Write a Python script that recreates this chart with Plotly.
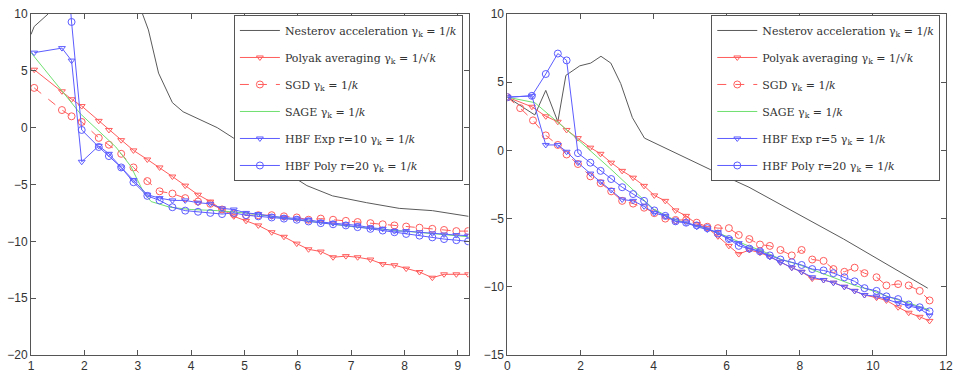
import plotly.graph_objects as go

# ---------------- Left panel data ----------------
left_x = [1.06, 1.58, 1.76, 1.95, 2.27, 2.46, 2.69, 2.92, 3.18, 3.41, 3.65, 3.89, 4.13, 4.36, 4.58,
          4.8, 5.03, 5.26, 5.51, 5.74, 5.98, 6.2, 6.43, 6.66, 6.9, 7.12, 7.36, 7.59, 7.81, 8.03,
          8.28, 8.52, 8.74, 8.97, 9.19]
left_polyak = [5.1, 3.2, 2.5, 1.9, 0.6, -0.2, -1.1, -2.0, -2.8, -3.5, -4.3, -5.1, -5.9, -6.5, -7.2,
               -7.8, -8.2, -8.6, -9.2, -9.6, -10.2, -10.7, -10.9, -11.4, -11.3, -11.4, -11.6, -12.0, -12.1, -12.4,
               -12.7, -13.2, -12.9, -12.9, -12.9]
left_sgd = [3.5, 1.55, 1.0, 0.5, -0.9, -1.5, -2.3, -3.5, -4.7, -5.6, -5.8, -6.2, -6.5, -6.7, -7.2,
            -7.6, -7.7, -7.7, -7.7, -7.8, -7.9, -8.1, -8.0, -8.1, -8.2, -8.3, -8.4, -8.5, -8.6, -8.7,
            -8.8, -8.9, -9.0, -9.1, -9.1]
left_hbf_exp = [6.6, 7.0, 5.9, -3.0, -1.6, -2.3, -3.5, -4.6, -5.9, -6.2, -6.4, -6.4, -6.6, -6.7, -7.1,
                -7.2, -7.5, -7.6, -7.8, -7.9, -8.0, -8.1, -8.3, -8.4, -8.5, -8.6, -8.8, -8.9, -9.1, -9.1,
                -9.2, -9.3, -9.4, -9.45, -9.5]
left_hbf_poly = [30.0, 20.0, 9.3, -0.2, -1.7, -2.5, -3.5, -4.8, -6.0, -6.4, -7.0, -7.3, -7.4, -7.5, -7.6,
                 -7.5, -7.7, -7.8, -7.9, -8.0, -8.1, -8.25, -8.4, -8.5, -8.6, -8.75, -8.9, -9.05, -9.2, -9.35,
                 -9.5, -9.65, -9.8, -9.9, -10.0]
left_sage_x = [1.0, 1.93, 2.59, 2.87, 3.1, 3.25, 3.6, 4.0, 4.5, 5.0, 5.5, 6.0, 6.5, 7.0, 7.5, 8.0, 8.5, 9.2]
left_sage = [6.6, 1.2, -1.7, -3.4, -5.6, -6.5, -7.0, -7.2, -7.3, -7.5, -7.8, -8.1, -8.4, -8.7, -8.9, -9.1, -9.3, -9.6]
left_nest_x = [1.0, 1.06, 1.32, 2.2, 3.09, 3.2, 3.39, 3.65, 3.85, 4.17, 4.49, 4.79, 5.3, 6.17, 6.65, 7.29, 7.9, 8.52, 9.2]
left_nest = [8.2, 8.9, 10.0, 16.0, 10.0, 8.6, 4.8, 2.2, 1.4, 0.7, 0.0, -0.9, -2.5, -5.1, -6.0, -6.6, -7.1, -7.3, -7.8]

# ---------------- Right panel data ----------------
right_x = [0, 0.67, 1.05, 1.38, 1.62, 1.93, 2.27, 2.55, 2.84, 3.14, 3.44, 3.74, 4.02, 4.32, 4.6, 4.89,
           5.18, 5.47, 5.76, 6.06, 6.33, 6.62, 6.91, 7.18, 7.47, 7.78, 8.05, 8.34, 8.65, 8.92, 9.22,
           9.5, 9.77, 10.1, 10.37, 10.69, 10.98, 11.28, 11.55]
right_polyak = [3.9, 3.2, 2.5, 2.1, 1.5, 0.9, 0.2, -0.25, -0.9, -1.5, -2.0, -2.6, -3.3, -3.7, -4.4, -4.8,
                -5.4, -5.7, -6.3, -7.0, -7.6, -7.3, -7.5, -7.8, -8.2, -8.6, -8.9, -9.4, -9.5, -9.7, -10.0,
                -10.3, -10.6, -10.8, -11.0, -11.5, -11.9, -12.2, -12.5]
right_sgd_x = [0, 0.35, 0.7, 1.05, 1.38, 1.62, 1.93, 2.27, 2.55, 2.84, 3.14, 3.44, 3.74, 4.02, 4.32, 4.6,
               4.89, 5.18, 5.47, 5.76, 6.06, 6.33, 6.62, 6.91, 7.18, 7.47, 7.78, 8.05, 8.34, 8.65, 8.92,
               9.22, 9.5, 9.77, 10.1, 10.37, 10.69, 10.98, 11.28, 11.55]
right_sgd = [3.9, 3.1, 2.2, 1.1, 0.4, -0.3, -1.0, -1.9, -2.4, -3.0, -3.7, -3.9, -4.2, -4.6, -5.0, -5.1,
             -5.1, -5.3, -5.6, -5.7, -5.7, -6.2, -6.5, -6.9, -7.0, -7.3, -7.7, -7.3, -8.0, -8.1, -8.7,
             -8.9, -8.6, -9.0, -9.3, -9.9, -9.8, -9.9, -10.3, -11.0]
right_hbf_exp = [3.9, 4.0, 0.4, 0.4, -0.1, -0.9, -1.7, -2.3, -2.9, -3.6, -3.7, -4.1, -4.6, -4.8, -5.2, -5.3,
                 -5.6, -5.8, -6.0, -6.5, -6.8, -7.2, -7.4, -7.8, -8.2, -8.6, -8.9, -9.3, -9.5, -9.7, -10.0,
                 -10.3, -10.6, -10.7, -10.9, -11.2, -11.4, -11.6, -12.1]
right_hbf_poly = [3.9, 4.0, 5.6, 7.1, 6.6, -0.2, -0.9, -1.5, -2.1, -2.7, -3.2, -3.7, -4.4, -4.8, -5.2, -5.3,
                  -5.5, -5.7, -6.1, -6.5, -7.0, -7.2, -7.4, -7.7, -8.0, -8.2, -8.4, -8.7, -8.8, -9.0, -9.3,
                  -9.6, -10.1, -10.3, -10.7, -10.9, -11.3, -11.5, -11.8]
right_sage_x = [0, 0.75, 1.8, 2.8, 3.6, 4.0, 4.5, 5.0, 5.5, 6.0, 6.5, 7.0, 7.5, 8.0, 8.5, 9.0, 9.5, 10.0, 10.5, 11.0, 11.55]
right_sage = [3.9, 3.5, 1.1, -1.3, -3.3, -4.3, -5.0, -5.4, -5.8, -6.3, -6.9, -7.4, -8.0, -8.4, -8.9, -9.4, -9.9, -10.3, -10.8, -11.2, -11.7]
right_nest_x = [0, 0.75, 1.05, 1.38, 1.6, 1.98, 2.28, 2.56, 2.83, 3.1, 3.42, 3.75, 5.55, 6.61, 9.2, 11.5]
right_nest = [3.9, 2.6, 4.4, 2.1, 5.5, 6.2, 6.4, 6.9, 6.4, 4.9, 2.4, 0.9, -1.4, -2.7, -6.5, -10.1]

names_left = [
    "Nesterov acceleration γ<sub>k</sub> = 1/<i>k</i>",
    "Polyak averaging γ<sub>k</sub> = 1/√<i>k</i>",
    "SGD γ<sub>k</sub> = 1/<i>k</i>",
    "SAGE γ<sub>k</sub> = 1/<i>k</i>",
    "HBF Exp r=10 γ<sub>k</sub> = 1/<i>k</i>",
    "HBF Poly r=20 γ<sub>k</sub> = 1/<i>k</i>",
]
names_right = [
    "Nesterov acceleration γ<sub>k</sub> = 1/<i>k</i>",
    "Polyak averaging γ<sub>k</sub> = 1/√<i>k</i>",
    "SGD γ<sub>k</sub> = 1/<i>k</i>",
    "SAGE γ<sub>k</sub> = 1/<i>k</i>",
    "HBF Exp r=5 γ<sub>k</sub> = 1/<i>k</i>",
    "HBF Poly r=20 γ<sub>k</sub> = 1/<i>k</i>",
]

GRAY = "#5a5a5a"
RED = "#ff5c5c"
GREEN = "#70e070"
BLUE = "#5c5cff"

fig = go.Figure()


def add_panel(xa, ya, leg, names, nest, polyak, sgd, sage, exp, poly):
    specs = [
        (nest, dict(color=GRAY, width=1), None),
        (polyak, dict(color=RED, width=1), dict(symbol="triangle-down-open", size=6, color=RED)),
        (sgd, dict(color=RED, width=1, dash="dash"), dict(symbol="circle-open", size=7, color=RED)),
        (sage, dict(color=GREEN, width=1), None),
        (exp, dict(color=BLUE, width=1), dict(symbol="triangle-down-open", size=6, color=BLUE)),
        (poly, dict(color=BLUE, width=1), dict(symbol="circle-open", size=7, color=BLUE)),
    ]
    for i, ((x, y), line, marker) in enumerate(specs):
        kw = dict(x=x, y=y, name=names[i], line=line, xaxis=xa, yaxis=ya,
                  legend=leg, legendgroup=leg + str(i), cliponaxis=True)
        if marker is None:
            kw["mode"] = "lines"
        else:
            kw["mode"] = "lines+markers"
            kw["marker"] = marker
        fig.add_trace(go.Scatter(**kw))


add_panel("x", "y", "legend", names_left,
          (left_nest_x, left_nest), (left_x, left_polyak), (left_x, left_sgd),
          (left_sage_x, left_sage), (left_x, left_hbf_exp), (left_x, left_hbf_poly))
add_panel("x2", "y2", "legend2", names_right,
          (right_nest_x, right_nest), (right_x, right_polyak), (right_sgd_x, right_sgd),
          (right_sage_x, right_sage), (right_x, right_hbf_exp), (right_x, right_hbf_poly))

axis_common = dict(showline=True, linecolor="#555", linewidth=1, mirror="ticks",
                   ticks="inside", ticklen=5, tickcolor="#555", showgrid=False, zeroline=False,
                   tickfont=dict(family="Liberation Sans, Arial", size=12, color="#333"))

W, H = 960, 381
ml, mr, mt, mb = 30, 10, 7, 26
pw = W - ml - mr
ph = H - mt - mb

legend_common = dict(xanchor="left", yanchor="top", bgcolor="white", bordercolor="#555",
                     borderwidth=1, tracegroupgap=8, itemwidth=40,
                     font=dict(family="DejaVu Serif", size=11, color="#333"))

fig.update_layout(
    width=W, height=H,
    margin=dict(l=ml, r=mr, t=mt, b=mb),
    paper_bgcolor="white", plot_bgcolor="white",
    xaxis=dict(domain=[0, 440 / pw], range=[1, 9.2], tickvals=[1, 2, 3, 4, 5, 6, 7, 8, 9], **axis_common),
    yaxis=dict(domain=[0, 1], range=[-20, 10], tickvals=[-20, -15, -10, -5, 0, 5, 10], **axis_common),
    xaxis2=dict(domain=[479 / pw, 1], range=[0, 12], tickvals=[0, 2, 4, 6, 8, 10, 12], anchor="y2", **axis_common),
    yaxis2=dict(domain=[0, 1], range=[-15, 10], tickvals=[-15, -10, -5, 0, 5, 10], anchor="x2", **axis_common),
    legend=dict(x=(234 - ml) / pw, y=(H - mb - 8) / ph, **legend_common),
    legend2=dict(x=(714 - ml) / pw, y=(H - mb - 8) / ph, **legend_common),
    showlegend=True,
)

fig.write_html("out.html")
